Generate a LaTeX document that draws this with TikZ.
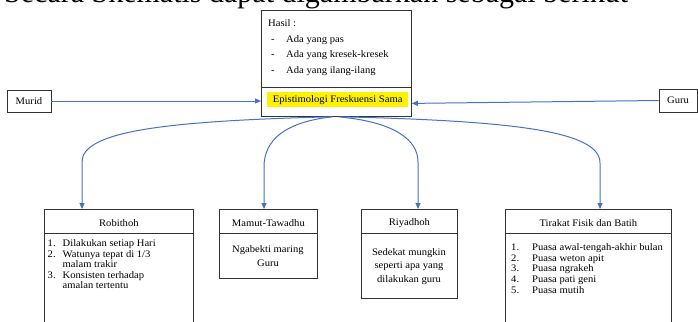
\documentclass[tikz,border=0pt]{standalone}
\usepackage{fontspec}
\setmainfont{Liberation Serif}[FakeStretch=1.06]
\newfontfamily\headfont{Liberation Serif}
\usetikzlibrary{arrows.meta}
\definecolor{connblue}{RGB}{68,114,196}
\definecolor{boxline}{RGB}{50,50,50}
\newcommand\bxfont{\fontsize{10}{11}\selectfont}
\tikzset{
 frame/.style={draw=boxline, line width=0.8pt, rectangle, inner sep=0pt, anchor=north west},
 conn/.style={draw=connblue, line width=1pt, -{Triangle[length=6pt,width=5pt]}},
 txt/.style={inner sep=0pt, font=\bxfont},
 divider/.style={draw=boxline, line width=0.8pt},
}
\begin{document}
\begin{tikzpicture}[x=1pt,y=-1pt]
\useasboundingbox (0,0) rectangle (698,321);
\clip (0,0) rectangle (698,321);
\node[inner sep=0pt, anchor=base west, font=\headfont\fontsize{30}{30}\selectfont] (head) at (4,2.5) {Secara Skematis dapat digambarkan sebagai berikut};

% central boxes
\node[frame, minimum width=150pt, minimum height=77pt] (hasil) at (261,10) {};
\node[frame, minimum width=150pt, minimum height=29pt] (epi) at (261,87) {};
\node[txt, fill=yellow, anchor=north west, minimum width=141pt, minimum height=15pt] (epitext) at (267,92) {Epistimologi Freskuensi Sama};
\node[txt, anchor=base west] (hasiltext) at (268,27) {\fontsize{10}{15.5}\selectfont\begin{tabular}[t]{@{}p{18pt}@{}l@{}}\multicolumn{2}{@{}l@{}}{Hasil :}\\
\hspace*{3pt}- & Ada yang pas\\
\hspace*{3pt}- & Ada yang kresek-kresek\\
\hspace*{3pt}- & Ada yang ilang-ilang\end{tabular}};

% side boxes
\node[frame, anchor=center, minimum width=44pt, minimum height=22pt, font=\bxfont] (murid) at (29,101) {Murid};
\node[frame, anchor=center, minimum width=38pt, minimum height=23pt, font=\bxfont] (guru) at (678,100.5) {Guru};

% Robithoh
\node[frame, minimum width=149pt, minimum height=140pt] (robi) at (44,209) {};
\draw[divider] ([yshift=-24pt]robi.north west) -- ([yshift=-24pt]robi.north east);
\node[txt] (robititle) at ([yshift=-14pt]robi.north) {Robithoh};
\node[txt, anchor=base west] (robilist) at (47.5,246.5) {\fontsize{10}{10.6}\selectfont\begin{tabular}[t]{@{}p{15pt}@{}l@{}}1. & Dilakukan setiap Hari\\
2. & Watunya tepat di 1/3\\
 & malam trakir\\
3. & Konsisten terhadap\\
 & amalan tertentu\end{tabular}};

% Mamut-Tawadhu
\node[frame, minimum width=98pt, minimum height=69pt] (mamut) at (219,209) {};
\draw[divider] ([yshift=-24pt]mamut.north west) -- ([yshift=-24pt]mamut.north east);
\node[txt] (mamuttitle) at ([yshift=-14pt]mamut.north) {Mamut-Tawadhu};
\node[txt, anchor=base] (mamutbody) at (268,252.5) {\fontsize{10}{14}\selectfont\begin{tabular}[t]{@{}c@{}}Ngabekti maring\\ Guru\end{tabular}};

% Riyadhoh
\node[frame, minimum width=96pt, minimum height=89pt] (riya) at (361,209) {};
\draw[divider] ([yshift=-24pt]riya.north west) -- ([yshift=-24pt]riya.north east);
\node[txt] (riyatitle) at ([yshift=-14pt]riya.north) {Riyadhoh};
\node[txt, anchor=base] (riyabody) at (409,255.5) {\fontsize{10}{13.3}\selectfont\begin{tabular}[t]{@{}c@{}}Sedekat mungkin\\ seperti apa yang\\ dilakukan guru\end{tabular}};

% Tirakat
\node[frame, minimum width=166pt, minimum height=140pt] (tira) at (505,209) {};
\draw[divider] ([yshift=-24pt]tira.north west) -- ([yshift=-24pt]tira.north east);
\node[txt] (tiratitle) at ([yshift=-14pt]tira.north) {Tirakat Fisik dan Batih};
\node[txt, anchor=base west] (tiralist) at (511,250.5) {\fontsize{10}{10.7}\selectfont\begin{tabular}[t]{@{}p{21pt}@{}l@{}}1. & Puasa awal-tengah-akhir bulan\\
2. & Puasa weton apit\\
3. & Puasa ngrakeh\\
4. & Puasa pati geni\\
5. & Puasa mutih\end{tabular}};

% connectors
\draw[conn] (murid.east) -- (murid.east -| epi.west);
\draw[conn] (guru.west) -- ([yshift=-1.5pt]epi.east);
\draw[conn] ([xshift=-5pt]epi.south) .. controls (160,121) and (82,132) .. (82,162) -- ([xshift=38pt]robi.north west);
\draw[conn] ([xshift=-4pt]epi.south) .. controls (285,122) and (264,140) .. (264,167) -- ([xshift=45pt]mamut.north west);
\draw[conn] ([xshift=2pt]epi.south) .. controls (395,122) and (418,140) .. (418,162) -- ([xshift=57pt]riya.north west);
\draw[conn] ([xshift=5pt]epi.south) .. controls (520,121) and (600,132) .. (600,163) -- ([xshift=95pt]tira.north west);
\end{tikzpicture}
\end{document}
